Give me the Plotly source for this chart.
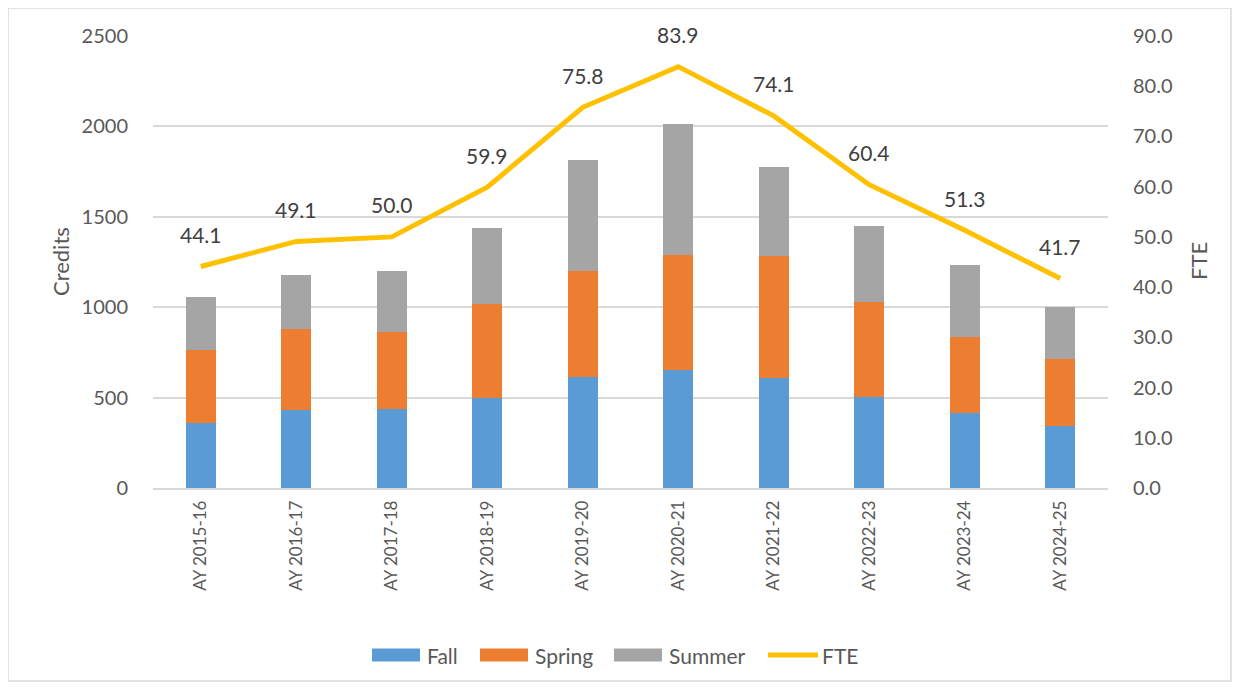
import plotly.graph_objects as go

categories = ["AY 2015-16", "AY 2016-17", "AY 2017-18", "AY 2018-19", "AY 2019-20",
              "AY 2020-21", "AY 2021-22", "AY 2022-23", "AY 2023-24", "AY 2024-25"]
fall = [358, 433, 437, 498, 615, 653, 607, 502, 413, 345]
spring = [407, 448, 428, 521, 583, 635, 678, 525, 420, 370]
summer = [293, 297, 335, 417, 618, 724, 492, 422, 399, 286]
fte = [44.1, 49.1, 50.0, 59.9, 75.8, 83.9, 74.1, 60.4, 51.3, 41.7]

left_ticks = [0, 500, 1000, 1500, 2000, 2500]
right_ticks = [0, 10, 20, 30, 40, 50, 60, 70, 80, 90]

series_names = ["Fall", "Spring", "Summer", "FTE"]
series_colors = ["#5B9BD5", "#ED7D31", "#A5A5A5", "#FFC000"]

# page offset of the figure (body margin) is 8px
OFF = 8
W, H = 1225, 674
ML = 153 - OFF
MT = 36 - OFF
MR = OFF + W - 1108
MB = OFF + H - 488
PW, PH = W - ML - MR, H - MT - MB


def px_x(page_x):
    return (page_x - OFF - ML) / PW


def px_y(page_y):
    return (OFF + H - MB - page_y) / PH


FONT = "Lato, 'Open Sans', sans-serif"
TICK_COLOR = "#595959"

fig = go.Figure()
for name, vals, col in zip(series_names[:3], [fall, spring, summer], series_colors[:3]):
    fig.add_trace(go.Bar(x=categories, y=vals, name=name, marker_color=col,
                         marker_line_width=0, showlegend=False))
fig.add_trace(go.Scatter(x=categories, y=fte, name="FTE", mode="lines", yaxis="y2",
                         line=dict(color=series_colors[3], width=5), showlegend=False))

for c, v in zip(categories, fte):
    fig.add_annotation(x=c, y=v, yref="y2", text=f"{v:.1f}", showarrow=False,
                       yshift=32, font=dict(size=21, color="#404040", family=FONT))

# axis titles
fig.add_annotation(xref="paper", yref="paper", x=px_x(60), y=px_y(262),
                   xanchor="center", yanchor="middle",
                   text="Credits", textangle=-90, showarrow=False,
                   font=dict(size=22, color=TICK_COLOR, family=FONT))
fig.add_annotation(xref="paper", yref="paper", x=px_x(1198), y=px_y(261),
                   xanchor="center", yanchor="middle",
                   text="FTE", textangle=-90, showarrow=False,
                   font=dict(size=22, color=TICK_COLOR, family=FONT))

# custom legend (long swatches like the original)
legend_x = [372, 480, 614, 767]
SW = 48
LY = 655
for i, (name, col, lx) in enumerate(zip(series_names, series_colors, legend_x)):
    if name == "FTE":
        fig.add_shape(type="line", xref="paper", yref="paper",
                      x0=px_x(lx + 1), x1=px_x(lx + 51), y0=px_y(LY), y1=px_y(LY),
                      line=dict(color=col, width=5))
        tx = lx + 53
    else:
        fig.add_shape(type="rect", xref="paper", yref="paper",
                      x0=px_x(lx), x1=px_x(lx + SW), y0=px_y(LY + 6.5), y1=px_y(LY - 6.5),
                      line=dict(width=0), fillcolor=col)
        tx = lx + SW + 5
    fig.add_annotation(xref="paper", yref="paper", x=px_x(tx), y=px_y(LY),
                       xanchor="left", yanchor="middle", text=name, showarrow=False,
                       font=dict(size=21, color=TICK_COLOR, family=FONT))

# chart border
fig.add_shape(type="rect", xref="paper", yref="paper",
              x0=px_x(8), x1=px_x(1231),
              y0=px_y(681), y1=px_y(8),
              line=dict(color="#D9D9D9", width=1.5), fillcolor="rgba(0,0,0,0)", layer="below")

fig.update_layout(
    width=W, height=H,
    margin=dict(l=ML, r=MR, t=MT, b=MB),
    barmode="stack", bargap=0.685,
    plot_bgcolor="white", paper_bgcolor="white",
    font=dict(family=FONT, color=TICK_COLOR, size=16),
    showlegend=False,
    xaxis=dict(tickangle=-90, showgrid=False, showline=True, linecolor="#D9D9D9", linewidth=1.5,
               ticks="outside", ticklen=4, tickcolor="rgba(0,0,0,0)",
               tickfont=dict(size=17, color=TICK_COLOR)),
    yaxis=dict(range=[0, 2500], tickvals=left_ticks, showgrid=True, gridcolor="#D9D9D9",
               gridwidth=1.5, zeroline=False, ticks="outside", ticklen=20,
               tickcolor="rgba(0,0,0,0)", tickfont=dict(size=20, color=TICK_COLOR)),
    yaxis2=dict(range=[0, 90], tickvals=right_ticks,
                ticktext=[f"{t:.1f}" for t in right_ticks], overlaying="y", side="right",
                showgrid=False, zeroline=False, ticks="outside", ticklen=20,
                tickcolor="rgba(0,0,0,0)", tickfont=dict(size=20, color=TICK_COLOR)),
)

fig.write_html("out.html")
